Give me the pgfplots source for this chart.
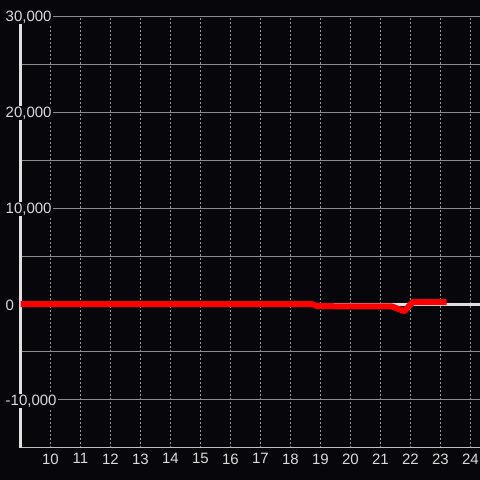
\documentclass[border=0pt]{standalone}
\usepackage{pgfplots}
\pgfplotsset{compat=1.18}
\usepackage{fontspec}
\setmainfont{Liberation Sans}
\definecolor{bg}{RGB}{7,6,10}
\definecolor{gridc}{RGB}{140,140,140}
\definecolor{vgridc}{RGB}{150,150,150}
\definecolor{axisc}{RGB}{224,224,224}
\definecolor{lbl}{RGB}{218,218,218}
\begin{document}
\begin{tikzpicture}[x=1pt,y=1pt]
\fill[bg] (0,0) rectangle (480,480);
\begin{axis}[
  at={(20.5pt,32pt)}, anchor=south west,
  scale only axis, width=459.5pt, height=432pt,
  xmin=9, xmax=24.3167, ymin=-15000, ymax=30000,
  axis x line*=bottom, axis y line*=left,
  x axis line style={draw=axisc!85!black, line width=1pt, -},
  y axis line style={draw=axisc, line width=3pt, -},
  major tick length=0pt, minor tick length=0pt,
  scaled y ticks=false,
  xtick={10,11,12,13,14,15,16,17,18,19,20,21,22,23,24},
  xticklabels={10,11,12,13,14,15,16,17,18,19,20,21,22,23,24},
  ytick={-10000,0,10000,20000,30000},
  yticklabels={{-10,000},0,{10,000},{20,000},{30,000}},
  minor ytick={-5000,5000,15000,25000},
  xmajorgrids, ymajorgrids, yminorgrids,
  x grid style={draw=vgridc, line width=0.8pt, dash pattern=on 2pt off 2pt},
  y grid style={draw=gridc, line width=1pt},
  minor y grid style={draw=gridc, line width=1pt},
  tick label style={font=\fontsize{15}{17}\selectfont, text=lbl},
  yticklabel style={anchor=west, fill=bg, inner sep=1pt, xshift=-16pt, yshift=-1pt},
  xticklabel style={yshift=-2pt},
  clip=false,
]
\addplot[draw=axisc, line width=3pt, forget plot] coordinates {(9,0) (24.3167,0)};
\addplot[draw=red, line width=6pt, line join=round] coordinates {
(9,0) (18.7,0) (18.9,-230) (21.37,-250) (21.8,-750) (22.07,200) (23.2,200)
};
\end{axis}
\pgfresetboundingbox
\useasboundingbox (0,0) rectangle (480,480);
\end{tikzpicture}
\end{document}
